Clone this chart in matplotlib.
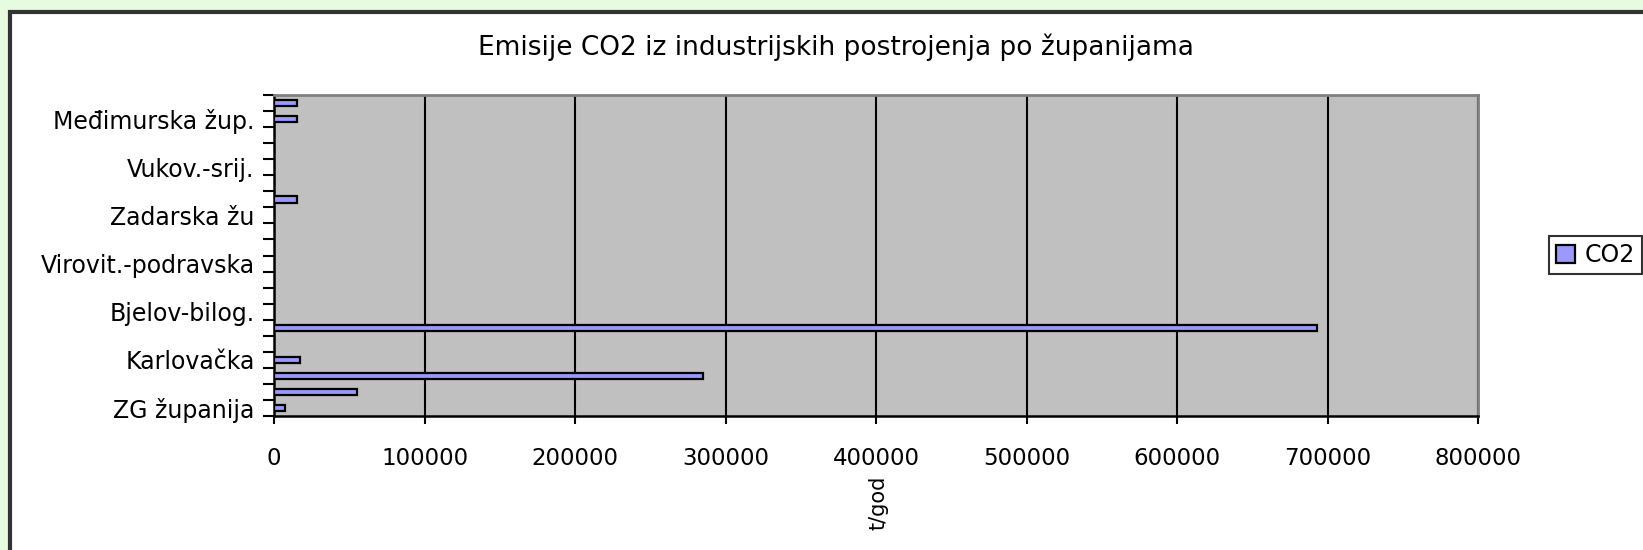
# Emisije CO2 iz industrijskih postrojenja po zupanijama - horizontal bar chart

# Import necessary modules
import matplotlib
matplotlib.use("Agg")
import matplotlib.pyplot as plt
from matplotlib.patches import Rectangle
from matplotlib.ticker import MultipleLocator, FixedLocator, StrMethodFormatter

# Counties (bottom to top) and CO2 emissions in t/god
counties = ["ZG županija", "Krapinsko-zag.", "Sisačko-mosl.", "Karlovačka", "Varaždinska",
            "Koprivn.-križ.", "Bjelov-bilog.", "Primorsko-gor.", "Ličko-senjska", "Virovit.-podravska",
            "Požeško-slav.", "Brodsko-pos.", "Zadarska žu", "Osječko-baranj.", "Šibensko-knin.",
            "Vukov.-srij.", "Splitsko-dalm.", "Istarska", "Međimurska žup.", "Grad Zagreb"]
co2 = [7000, 55000, 285000, 17000, 0,
       693000, 0, 0, 0, 0,
       0, 0, 0, 15000, 0,
       0, 0, 0, 15000, 15000]
x_ticks = [0, 100000, 200000, 300000, 400000, 500000, 600000, 700000, 800000]

W, H = 1643, 550
plt.rcParams['font.family'] = ['DejaVu Sans']

fig = plt.figure(figsize=(W / 100, H / 100), dpi=100)
fig.patch.set_facecolor('#e6fbdf')

# White chart area with a dark frame (runs off the right and bottom edges)
fig.add_artist(Rectangle((10 / W, -0.1), 2, 1 - 12 / H + 0.1, transform=fig.transFigure,
                         facecolor='white', edgecolor='#333333', linewidth=3, zorder=0))

# Plot area
ax = fig.add_axes([274 / W, 1 - 416 / H, (1478 - 274) / W, (416 - 95) / H])
ax.set_facecolor('#c0c0c0')

ypos = list(range(len(counties)))
ax.barh(ypos, co2, height=0.4, color='#9999ff', edgecolor='black', linewidth=1.6,
        label='CO2', zorder=3)

# X axis
ax.set_xlim(x_ticks[0], x_ticks[-1])
ax.xaxis.set_major_locator(FixedLocator(x_ticks))
ax.xaxis.set_major_formatter(StrMethodFormatter('{x:.0f}'))
ax.grid(True, axis='x', color='black', linewidth=1.5, zorder=1)
ax.set_axisbelow(True)
ax.tick_params(axis='x', direction='out', length=6, width=1.5, pad=16, labelsize=16.5)

# Y axis: ticks between categories, every third label shown
ax.set_ylim(-0.5, len(counties) - 0.5)
ax.yaxis.set_major_locator(FixedLocator(ypos[::3]))
ax.set_yticklabels(counties[::3])
ax.yaxis.set_minor_locator(MultipleLocator(1, offset=0.5))
ax.tick_params(axis='y', which='major', length=0, pad=14, labelsize=17)
ax.tick_params(axis='y', which='minor', direction='out', length=8, width=1.5)

for side in ['left', 'bottom']:
    ax.spines[side].set_color('black')
    ax.spines[side].set_linewidth(1.8)
for side in ['top', 'right']:
    ax.spines[side].set_color('#808080')
    ax.spines[side].set_linewidth(2)

# Title and axis title
fig.text(836 / W, 1 - 47 / H, "Emisije CO2 iz industrijskih postrojenja po županijama",
         ha='center', va='center', fontsize=19, color='black')
fig.text(878 / W, 1 - 503 / H, "t/god", rotation=90, ha='center', va='center', fontsize=15)

# Legend box at the right
leg = fig.legend(loc='upper left', bbox_to_anchor=(1549 / W, 1 - 236 / H), fontsize=17,
                 frameon=True, fancybox=False, handlelength=0.8, handleheight=0.8,
                 handletextpad=0.4, borderpad=0.3, borderaxespad=0)
leg.get_frame().set_edgecolor('black')
leg.get_frame().set_linewidth(1.5)

fig.savefig('out.png', dpi=100, facecolor=fig.get_facecolor())
